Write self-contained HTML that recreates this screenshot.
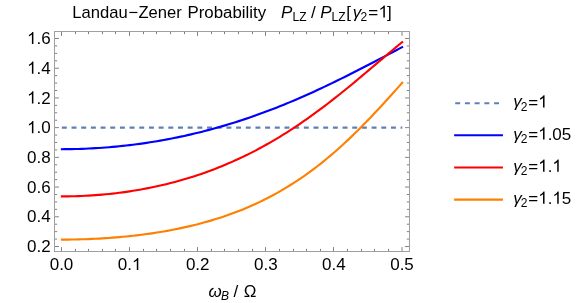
<!DOCTYPE html><html><head><meta charset="utf-8"><style>html,body{margin:0;padding:0;background:#fff}svg{display:block;will-change:transform}text{font-family:"Liberation Sans",sans-serif;fill:#000}</style></head><body>
<svg width="581" height="303" viewBox="0 0 581 303">
<rect width="581" height="303" fill="#fff"/>
<defs><clipPath id="c"><rect x="54.50" y="31.50" width="355.00" height="220.00"/></clipPath></defs>
<g clip-path="url(#c)" fill="none" stroke-linejoin="round">
<path d="M61.85 127.64 L402.30 127.64" stroke="#5e81b5" stroke-width="2.13" stroke-dasharray="4.94 4.74"/>
<path d="M60.83 149.19 L61.33 149.19 L64.74 149.18 L68.16 149.15 L71.57 149.10 L74.98 149.03 L78.40 148.94 L81.81 148.83 L85.22 148.70 L88.64 148.54 L92.05 148.37 L95.47 148.18 L98.88 147.97 L102.29 147.74 L105.71 147.48 L109.12 147.21 L112.53 146.92 L115.95 146.60 L119.36 146.27 L122.77 145.91 L126.19 145.54 L129.60 145.14 L133.01 144.72 L136.43 144.28 L139.84 143.82 L143.25 143.34 L146.67 142.84 L150.08 142.32 L153.49 141.78 L156.91 141.21 L160.32 140.63 L163.74 140.02 L167.15 139.39 L170.56 138.74 L173.98 138.07 L177.39 137.37 L180.80 136.66 L184.22 135.92 L187.63 135.16 L191.04 134.38 L194.46 133.58 L197.87 132.75 L201.28 131.91 L204.70 131.04 L208.11 130.15 L211.52 129.23 L214.94 128.30 L218.35 127.34 L221.76 126.36 L225.18 125.36 L228.59 124.34 L232.00 123.29 L235.42 122.22 L238.83 121.13 L242.25 120.01 L245.66 118.88 L249.07 117.72 L252.49 116.54 L255.90 115.34 L259.31 114.11 L262.73 112.87 L266.14 111.60 L269.55 110.31 L272.97 109.00 L276.38 107.67 L279.79 106.31 L283.21 104.94 L286.62 103.54 L290.03 102.13 L293.45 100.69 L296.86 99.23 L300.28 97.76 L303.69 96.26 L307.10 94.74 L310.52 93.21 L313.93 91.66 L317.34 90.09 L320.76 88.50 L324.17 86.89 L327.58 85.27 L331.00 83.64 L334.41 81.98 L337.82 80.32 L341.24 78.63 L344.65 76.94 L348.06 75.23 L351.48 73.51 L354.89 71.78 L358.30 70.03 L361.72 68.28 L365.13 66.52 L368.55 64.75 L371.96 62.98 L375.37 61.20 L378.79 59.41 L382.20 57.62 L385.61 55.83 L389.03 54.03 L392.44 52.24 L395.85 50.45 L399.27 48.66 L402.68 46.87 L403.03 46.69" stroke="#0000ff" stroke-width="2.13" stroke-linecap="butt"/>
<path d="M60.83 196.42 L61.33 196.42 L64.74 196.41 L68.16 196.37 L71.57 196.31 L74.98 196.22 L78.40 196.11 L81.81 195.97 L85.22 195.81 L88.64 195.62 L92.05 195.41 L95.47 195.17 L98.88 194.91 L102.29 194.62 L105.71 194.30 L109.12 193.96 L112.53 193.59 L115.95 193.20 L119.36 192.78 L122.77 192.33 L126.19 191.85 L129.60 191.35 L133.01 190.82 L136.43 190.26 L139.84 189.68 L143.25 189.06 L146.67 188.42 L150.08 187.75 L153.49 187.04 L156.91 186.31 L160.32 185.55 L163.74 184.76 L167.15 183.93 L170.56 183.08 L173.98 182.19 L177.39 181.27 L180.80 180.32 L184.22 179.34 L187.63 178.32 L191.04 177.27 L194.46 176.18 L197.87 175.06 L201.28 173.91 L204.70 172.72 L208.11 171.49 L211.52 170.23 L214.94 168.93 L218.35 167.59 L221.76 166.22 L225.18 164.80 L228.59 163.35 L232.00 161.87 L235.42 160.34 L238.83 158.77 L242.25 157.16 L245.66 155.52 L249.07 153.83 L252.49 152.10 L255.90 150.33 L259.31 148.52 L262.73 146.67 L266.14 144.78 L269.55 142.84 L272.97 140.87 L276.38 138.85 L279.79 136.79 L283.21 134.69 L286.62 132.55 L290.03 130.37 L293.45 128.14 L296.86 125.88 L300.28 123.57 L303.69 121.23 L307.10 118.85 L310.52 116.42 L313.93 113.96 L317.34 111.47 L320.76 108.93 L324.17 106.36 L327.58 103.76 L331.00 101.13 L334.41 98.46 L337.82 95.76 L341.24 93.04 L344.65 90.28 L348.06 87.50 L351.48 84.70 L354.89 81.88 L358.30 79.04 L361.72 76.18 L365.13 73.31 L368.55 70.43 L371.96 67.54 L375.37 64.65 L378.79 61.75 L382.20 58.85 L385.61 55.96 L389.03 53.08 L392.44 50.21 L395.85 47.35 L399.27 44.52 L402.68 41.71 L402.99 41.46" stroke="#ff0000" stroke-width="2.13" stroke-linecap="butt"/>
<path d="M60.83 239.61 L61.33 239.61 L64.74 239.60 L68.16 239.58 L71.57 239.54 L74.98 239.48 L78.40 239.40 L81.81 239.31 L85.22 239.20 L88.64 239.07 L92.05 238.93 L95.47 238.76 L98.88 238.58 L102.29 238.39 L105.71 238.17 L109.12 237.94 L112.53 237.68 L115.95 237.41 L119.36 237.12 L122.77 236.81 L126.19 236.48 L129.60 236.13 L133.01 235.76 L136.43 235.37 L139.84 234.96 L143.25 234.52 L146.67 234.06 L150.08 233.58 L153.49 233.08 L156.91 232.55 L160.32 232.00 L163.74 231.43 L167.15 230.83 L170.56 230.20 L173.98 229.54 L177.39 228.86 L180.80 228.15 L184.22 227.41 L187.63 226.65 L191.04 225.85 L194.46 225.02 L197.87 224.16 L201.28 223.26 L204.70 222.33 L208.11 221.37 L211.52 220.37 L214.94 219.34 L218.35 218.27 L221.76 217.16 L225.18 216.01 L228.59 214.82 L232.00 213.59 L235.42 212.31 L238.83 211.00 L242.25 209.64 L245.66 208.23 L249.07 206.78 L252.49 205.27 L255.90 203.72 L259.31 202.12 L262.73 200.47 L266.14 198.77 L269.55 197.01 L272.97 195.20 L276.38 193.33 L279.79 191.41 L283.21 189.42 L286.62 187.38 L290.03 185.28 L293.45 183.12 L296.86 180.90 L300.28 178.62 L303.69 176.27 L307.10 173.86 L310.52 171.38 L313.93 168.84 L317.34 166.24 L320.76 163.57 L324.17 160.83 L327.58 158.03 L331.00 155.16 L334.41 152.23 L337.82 149.23 L341.24 146.17 L344.65 143.05 L348.06 139.86 L351.48 136.61 L354.89 133.30 L358.30 129.94 L361.72 126.52 L365.13 123.04 L368.55 119.52 L371.96 115.94 L375.37 112.33 L378.79 108.67 L382.20 104.97 L385.61 101.24 L389.03 97.49 L392.44 93.71 L395.85 89.91 L399.27 86.11 L402.68 82.29 L402.95 82.00" stroke="#ff8000" stroke-width="2.13" stroke-linecap="butt"/>
</g>
<path d="M61.50 251.50v-4.40M61.50 31.50v4.40M75.50 251.50v-2.66M75.50 31.50v2.66M88.50 251.50v-2.66M88.50 31.50v2.66M102.50 251.50v-2.66M102.50 31.50v2.66M115.50 251.50v-2.66M115.50 31.50v2.66M129.50 251.50v-4.40M129.50 31.50v4.40M143.50 251.50v-2.66M143.50 31.50v2.66M156.50 251.50v-2.66M156.50 31.50v2.66M170.50 251.50v-2.66M170.50 31.50v2.66M184.50 251.50v-2.66M184.50 31.50v2.66M197.50 251.50v-4.40M197.50 31.50v4.40M211.50 251.50v-2.66M211.50 31.50v2.66M224.50 251.50v-2.66M224.50 31.50v2.66M238.50 251.50v-2.66M238.50 31.50v2.66M252.50 251.50v-2.66M252.50 31.50v2.66M265.50 251.50v-4.40M265.50 31.50v4.40M279.50 251.50v-2.66M279.50 31.50v2.66M293.50 251.50v-2.66M293.50 31.50v2.66M306.50 251.50v-2.66M306.50 31.50v2.66M320.50 251.50v-2.66M320.50 31.50v2.66M333.50 251.50v-4.40M333.50 31.50v4.40M347.50 251.50v-2.66M347.50 31.50v2.66M361.50 251.50v-2.66M361.50 31.50v2.66M374.50 251.50v-2.66M374.50 31.50v2.66M388.50 251.50v-2.66M388.50 31.50v2.66M402.00 251.50v-4.40M402.00 31.50v4.40M54.50 246.50h4.40M409.50 246.50h-4.40M54.50 239.07h2.66M409.50 239.07h-2.66M54.50 231.64h2.66M409.50 231.64h-2.66M54.50 224.21h2.66M409.50 224.21h-2.66M54.50 216.79h4.40M409.50 216.79h-4.40M54.50 209.36h2.66M409.50 209.36h-2.66M54.50 201.93h2.66M409.50 201.93h-2.66M54.50 194.50h2.66M409.50 194.50h-2.66M54.50 187.07h4.40M409.50 187.07h-4.40M54.50 179.64h2.66M409.50 179.64h-2.66M54.50 172.22h2.66M409.50 172.22h-2.66M54.50 164.79h2.66M409.50 164.79h-2.66M54.50 157.36h4.40M409.50 157.36h-4.40M54.50 149.93h2.66M409.50 149.93h-2.66M54.50 142.50h2.66M409.50 142.50h-2.66M54.50 135.07h2.66M409.50 135.07h-2.66M54.50 127.64h4.40M409.50 127.64h-4.40M54.50 120.22h2.66M409.50 120.22h-2.66M54.50 112.79h2.66M409.50 112.79h-2.66M54.50 105.36h2.66M409.50 105.36h-2.66M54.50 97.93h4.40M409.50 97.93h-4.40M54.50 90.50h2.66M409.50 90.50h-2.66M54.50 83.07h2.66M409.50 83.07h-2.66M54.50 75.64h2.66M409.50 75.64h-2.66M54.50 68.22h4.40M409.50 68.22h-4.40M54.50 60.79h2.66M409.50 60.79h-2.66M54.50 53.36h2.66M409.50 53.36h-2.66M54.50 45.93h2.66M409.50 45.93h-2.66M54.50 38.50h4.40M409.50 38.50h-4.40" stroke="#808080" stroke-width="1" fill="none"/>
<rect x="54.50" y="31.50" width="355.00" height="220.00" fill="none" stroke="#a0a0a0" stroke-width="1"/>
<text x="27.07" y="252.10" font-size="17">0.2</text>
<text x="27.07" y="222.39" font-size="17">0.4</text>
<text x="27.07" y="192.67" font-size="17">0.6</text>
<text x="27.07" y="162.96" font-size="17">0.8</text>
<path d="M763 0H583V1147Q518 1085 412.5 1023T223 930V1104Q373 1174.5 485 1275T644 1470H763Z" transform="translate(27.07 133.24) scale(0.00830 -0.00830)" fill="#000"/><text x="36.52" y="133.24" font-size="17">.0</text>
<path d="M763 0H583V1147Q518 1085 412.5 1023T223 930V1104Q373 1174.5 485 1275T644 1470H763Z" transform="translate(27.07 103.53) scale(0.00830 -0.00830)" fill="#000"/><text x="36.52" y="103.53" font-size="17">.2</text>
<path d="M763 0H583V1147Q518 1085 412.5 1023T223 930V1104Q373 1174.5 485 1275T644 1470H763Z" transform="translate(27.07 73.82) scale(0.00830 -0.00830)" fill="#000"/><text x="36.52" y="73.82" font-size="17">.4</text>
<path d="M763 0H583V1147Q518 1085 412.5 1023T223 930V1104Q373 1174.5 485 1275T644 1470H763Z" transform="translate(27.07 44.10) scale(0.00830 -0.00830)" fill="#000"/><text x="36.52" y="44.10" font-size="17">.6</text>
<text x="49.69" y="270.10" font-size="17">0.0</text>
<text x="117.79" y="270.10" font-size="17">0.</text><path d="M763 0H583V1147Q518 1085 412.5 1023T223 930V1104Q373 1174.5 485 1275T644 1470H763Z" transform="translate(131.96 270.10) scale(0.00830 -0.00830)" fill="#000"/>
<text x="185.89" y="270.10" font-size="17">0.2</text>
<text x="253.99" y="270.10" font-size="17">0.3</text>
<text x="322.09" y="270.10" font-size="17">0.4</text>
<text x="390.19" y="270.10" font-size="17">0.5</text>
<text x="72.3" y="17.7" font-size="16.6">Landau<tspan dx="0.9">−</tspan><tspan dx="0.1">Zener</tspan> <tspan dx="1.1" font-size="16.85">Probability</tspan></text>
<text x="281.00" y="17.60" font-size="17" font-style="italic">P</text>
<text x="292.50" y="20.60" font-size="12">LZ</text>
<text x="311.10" y="17.60" font-size="17">/</text>
<text x="320.30" y="17.60" font-size="17" font-style="italic">P</text>
<text x="331.60" y="20.60" font-size="12">LZ</text>
<text x="346.35" y="17.60" font-size="17">[</text>
<text x="352.80" y="17.60" font-size="17" font-style="italic">γ</text>
<text x="360.60" y="20.60" font-size="12">2</text>
<text x="368.15" y="17.80" font-size="17">=</text>
<path d="M763 0H583V1147Q518 1085 412.5 1023T223 930V1104Q373 1174.5 485 1275T644 1470H763Z" transform="translate(378.50 17.60) scale(0.00830 -0.00830)" fill="#000"/>
<text x="387.10" y="17.60" font-size="17">]</text>
<text x="208.60" y="297.20" font-size="17" font-style="italic">ω</text>
<text x="221.00" y="300.20" font-size="12" font-style="italic">B</text>
<text x="233.40" y="297.20" font-size="17">/</text>
<text x="243.70" y="297.20" font-size="17">Ω</text>
<path d="M455.2 103.20 H501.9" stroke="#5e81b5" stroke-width="2.13" fill="none" stroke-dasharray="4.96 4.76"/>
<text x="513.20" y="107.40" font-size="17" font-style="italic">γ</text>
<text x="520.70" y="110.70" font-size="12">2</text>
<text x="528.30" y="107.70" font-size="17">=</text>
<path d="M763 0H583V1147Q518 1085 412.5 1023T223 930V1104Q373 1174.5 485 1275T644 1470H763Z" transform="translate(538.20 107.40) scale(0.00830 -0.00830)" fill="#000"/>
<path d="M455.2 135.30 H501.9" stroke="#0000ff" stroke-width="2.13" fill="none" stroke-linecap="square"/>
<text x="513.20" y="139.50" font-size="17" font-style="italic">γ</text>
<text x="520.70" y="142.80" font-size="12">2</text>
<text x="528.30" y="139.80" font-size="17">=</text>
<path d="M763 0H583V1147Q518 1085 412.5 1023T223 930V1104Q373 1174.5 485 1275T644 1470H763Z" transform="translate(538.20 139.50) scale(0.00830 -0.00830)" fill="#000"/><text x="547.65" y="139.50" font-size="17">.05</text>
<path d="M455.2 167.45 H501.9" stroke="#ff0000" stroke-width="2.13" fill="none" stroke-linecap="square"/>
<text x="513.20" y="171.65" font-size="17" font-style="italic">γ</text>
<text x="520.70" y="174.95" font-size="12">2</text>
<text x="528.30" y="171.95" font-size="17">=</text>
<path d="M763 0H583V1147Q518 1085 412.5 1023T223 930V1104Q373 1174.5 485 1275T644 1470H763Z" transform="translate(538.20 171.65) scale(0.00830 -0.00830)" fill="#000"/><text x="547.65" y="171.65" font-size="17">.</text><path d="M763 0H583V1147Q518 1085 412.5 1023T223 930V1104Q373 1174.5 485 1275T644 1470H763Z" transform="translate(552.38 171.65) scale(0.00830 -0.00830)" fill="#000"/>
<path d="M455.2 199.60 H501.9" stroke="#ff8000" stroke-width="2.13" fill="none" stroke-linecap="square"/>
<text x="513.20" y="203.80" font-size="17" font-style="italic">γ</text>
<text x="520.70" y="207.10" font-size="12">2</text>
<text x="528.30" y="204.10" font-size="17">=</text>
<path d="M763 0H583V1147Q518 1085 412.5 1023T223 930V1104Q373 1174.5 485 1275T644 1470H763Z" transform="translate(538.20 203.80) scale(0.00830 -0.00830)" fill="#000"/><text x="547.65" y="203.80" font-size="17">.</text><path d="M763 0H583V1147Q518 1085 412.5 1023T223 930V1104Q373 1174.5 485 1275T644 1470H763Z" transform="translate(552.38 203.80) scale(0.00830 -0.00830)" fill="#000"/><text x="561.83" y="203.80" font-size="17">5</text>
</svg></body></html>
